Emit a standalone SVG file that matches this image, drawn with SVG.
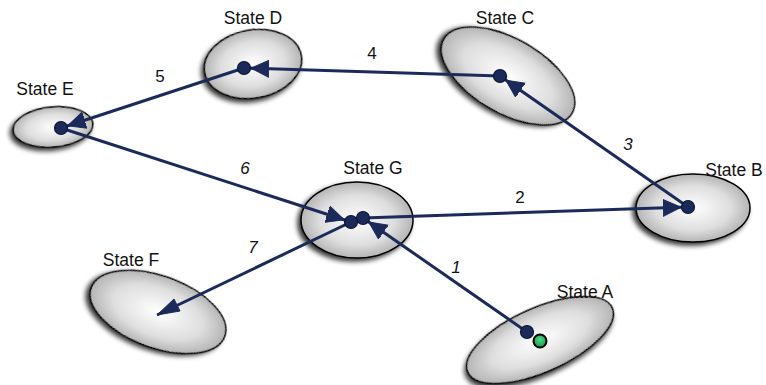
<svg xmlns="http://www.w3.org/2000/svg" width="766" height="385" viewBox="0 0 766 385">
  <style>
    .state { fill: url(#shade); stroke: #000; stroke-width: 1.5; filter: url(#shadow); }
    .label { font-family: "Liberation Sans", Arial, sans-serif; font-size: 17.5px; fill: #111; text-anchor: middle; }
    .num { font-family: "Liberation Sans", Arial, sans-serif; font-size: 17px; fill: #111; text-anchor: middle; }
    .slant { font-style: italic; }
    .edge { stroke: #1c2a5a; stroke-width: 3; fill: none; marker-end: url(#head); }
    .dot { fill: #1c2a5a; stroke: #0d1638; stroke-width: 1.2; }
  </style>
  <defs>
    <radialGradient id="shade" cx="0.5" cy="0.5" r="0.55">
      <stop offset="0" stop-color="#ffffff"/>
      <stop offset="0.6" stop-color="#dedede"/>
      <stop offset="1" stop-color="#a9a9a9"/>
    </radialGradient>
    <radialGradient id="go" cx="0.5" cy="0.4" r="0.6">
      <stop offset="0" stop-color="#4fd98a"/>
      <stop offset="1" stop-color="#119a48"/>
    </radialGradient>
    <filter id="shadow" x="-20%" y="-20%" width="140%" height="150%">
      <feGaussianBlur in="SourceAlpha" stdDeviation="2.5"/>
      <feOffset dx="-3" dy="3" result="b"/>
      <feComponentTransfer><feFuncA type="linear" slope="0.8"/></feComponentTransfer>
      <feMerge><feMergeNode/><feMergeNode in="SourceGraphic"/></feMerge>
    </filter>
    <marker id="head" markerUnits="userSpaceOnUse" markerWidth="26" markerHeight="22" viewBox="0 0 26 22" refX="25" refY="11" orient="auto">
      <path d="M0,2.5 L18,11 L0,19.5 Z" fill="#1c2a5a" stroke="#1c2a5a" stroke-width="1" stroke-linejoin="round"/>
    </marker>
  </defs>

  <!-- states -->
  <g id="state-a">
    <ellipse class="state" cx="540" cy="340" rx="79" ry="32" transform="rotate(-24 540 340)"/>
    <text class="label" x="585" y="298">State A</text>
    <circle cx="540" cy="341" r="6.5" fill="url(#go)" stroke="#000" stroke-width="2"/>
  </g>
  <g id="state-b">
    <ellipse class="state" cx="693" cy="208" rx="57" ry="34"/>
    <text class="label" x="734" y="176">State B</text>
  </g>
  <g id="state-c">
    <ellipse class="state" cx="508" cy="76" rx="74" ry="37" transform="rotate(30 508 76)"/>
    <text class="label" x="505" y="24">State C</text>
  </g>
  <g id="state-d">
    <ellipse class="state" cx="253" cy="64" rx="49" ry="34" transform="rotate(-10 253 64)"/>
    <text class="label" x="253" y="24">State D</text>
  </g>
  <g id="state-e">
    <ellipse class="state" cx="53" cy="127" rx="40" ry="20" transform="rotate(-5 53 127)"/>
    <text class="label" x="45" y="95">State E</text>
  </g>
  <g id="state-f">
    <ellipse class="state" cx="158" cy="312" rx="71" ry="36" transform="rotate(20 158 312)"/>
    <text class="label" x="131" y="266">State F</text>
  </g>
  <g id="state-g">
    <ellipse class="state" cx="357" cy="220" rx="56" ry="38"/>
    <text class="label" x="373" y="174">State G</text>
  </g>

  <!-- transitions -->
  <g id="connectors">
    <line class="edge" x1="527" y1="332" x2="363" y2="218"/>
    <line class="edge" x1="363" y1="218" x2="688" y2="207"/>
    <line class="edge" x1="688" y1="207" x2="500" y2="76"/>
    <line class="edge" x1="500" y1="76" x2="244" y2="68"/>
    <line class="edge" x1="244" y1="68" x2="61" y2="128"/>
    <line class="edge" x1="61" y1="128" x2="351" y2="222"/>
    <path d="M351,222 L157,315" stroke="#1c2a5a" stroke-width="3" fill="none"/>
    <path d="M174,299 L157,315 L180,311 Z" fill="#1c2a5a" stroke="#1c2a5a" stroke-linejoin="round"/>
    <circle class="dot" cx="527" cy="332" r="6.5"/>
    <circle class="dot" cx="363" cy="218" r="6.5"/>
    <circle class="dot" cx="688" cy="207" r="6.5"/>
    <circle class="dot" cx="500" cy="76" r="6.5"/>
    <circle class="dot" cx="244" cy="68" r="6.5"/>
    <circle class="dot" cx="61" cy="128" r="6.5"/>
    <circle class="dot" cx="351" cy="222" r="6.5"/>
    <text class="num slant" x="456" y="273">1</text>
    <text class="num" x="520" y="203">2</text>
    <text class="num slant" x="628" y="150">3</text>
    <text class="num" x="372" y="59">4</text>
    <text class="num" x="160" y="82">5</text>
    <text class="num slant" x="245" y="174">6</text>
    <text class="num slant" x="253" y="253">7</text>
  </g>
</svg>
